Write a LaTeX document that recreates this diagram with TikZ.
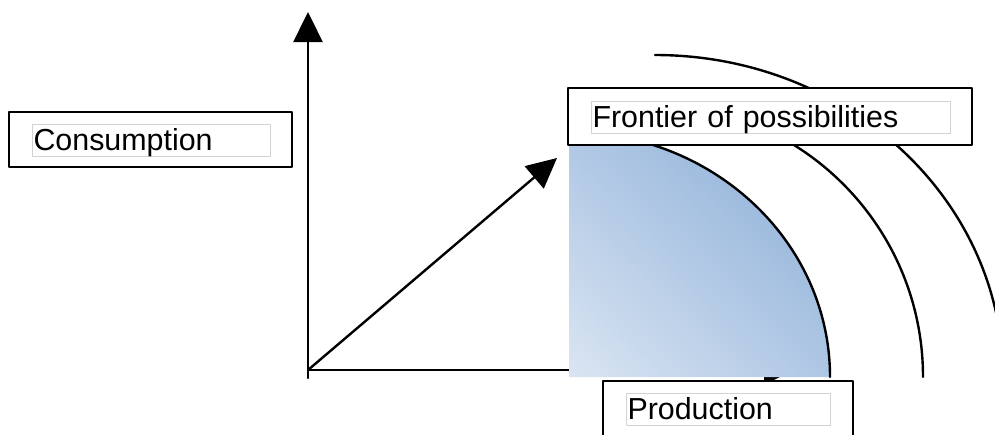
\documentclass[tikz,border=0pt]{standalone}
\usepackage{fontspec}
\setmainfont{Liberation Sans}
\usetikzlibrary{arrows.meta,shadings}
\definecolor{FrontierLight}{HTML}{DAE5F2}
\definecolor{FrontierMid}{HTML}{AFC7E4}
\definecolor{FrontierDark}{HTML}{86ABD6}
\definecolor{FieldGray}{HTML}{D2D2D2}

\begin{document}
\begin{tikzpicture}[x=1pt,y=-1pt,line cap=round,line join=round,
    axis/.style={line width=2.4pt,-{Triangle[length=30pt,width=29pt]}},
    frontier/.style={line width=2.4pt},
    framebox/.style={draw,fill=white,line width=1.4pt,inner sep=0pt},
    fieldbox/.style={draw=FieldGray,line width=1pt,inner xsep=1.5pt,inner ysep=0pt,
      text height=26pt,text depth=6pt,align=left,
      font=\fontsize{30.4}{36}\selectfont}]
  \clip (0,0) rectangle (995,434);
  \fill[white] (0,0) rectangle (995,434);

  \coordinate (O) at (308,370);
  \coordinate (Ofoot) at (308,378);
  \coordinate (Ytip) at (308,12);
  \coordinate (Xtip) at (794,370);
  \coordinate (Dtip) at (557,158);

  % axes and the growth arrow
  \draw[axis] (Ofoot) -- (Ytip);
  \draw[axis] (O) -- (Xtip);
  \draw[axis] (O) -- (Dtip);

  % outer frontiers
  \draw[frontier] (650,104) arc[start angle=-90,end angle=0,radius=273];
  \draw[frontier] (655,55) arc[start angle=-90,end angle=0,x radius=348,y radius=322];

  % today's frontier
  \shade[lower left=FrontierLight,upper right=FrontierDark,
         upper left=FrontierMid,lower right=FrontierMid]
    (569,377) -- (569,132) arc[start angle=-90,end angle=0,x radius=261,y radius=245] -- cycle;
  \draw[frontier] (569,132) arc[start angle=-90,end angle=0,x radius=261,y radius=245];

  % labels
  \node[framebox,minimum width=283,minimum height=55] (consframe) at (150.5,139.5) {};
  \node[fieldbox,text width=235] (consumption) at (151,140) {Consumption};
  \node[framebox,minimum width=404,minimum height=57] (frontframe) at (770,116.5) {};
  \node[fieldbox,text width=356] (frontier) at (770.5,117) {Frontier of possibilities};
  \node[framebox,minimum width=250,minimum height=69] (prodframe) at (728,415.5) {};
  \node[fieldbox,text width=201] (production) at (728,409) {Production};
\end{tikzpicture}
\end{document}
